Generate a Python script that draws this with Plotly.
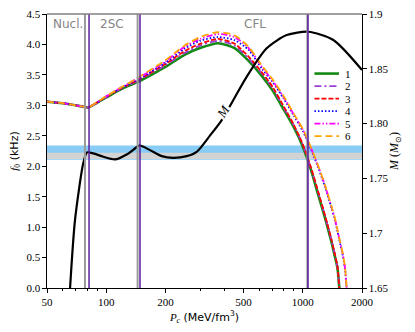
import math
import plotly.graph_objects as go

# central pressure grid (MeV/fm^3) shared by the f0 curves
p_grid = [50, 60, 70, 77, 81, 100, 120, 148, 200, 250, 300, 370, 450, 530, 620,
          700, 800, 900, 1000, 1100, 1200, 1300, 1400, 1450, 1500, 1533, 1600, 1640, 1670]

# f0 (kHz) for the six models
f1 = [3.06, 3.035, 3.0, 2.975, 2.965, 3.13, 3.27, 3.40, 3.63, 3.83, 3.94, 4.02, 3.94, 3.73, 3.48,
      3.25, 2.93, 2.64, 2.32, 1.94, 1.52, 1.14, 0.75, 0.54, 0.33, 0.0, None, None, None]
f2 = [3.06, 3.035, 3.0, 2.975, 2.965, 3.135, 3.28, 3.42, 3.66, 3.86, 3.98, 4.06, 3.98, 3.77, 3.52,
      3.29, 2.96, 2.67, 2.35, 1.97, 1.56, 1.17, 0.78, 0.57, 0.35, 0.0, None, None, None]
f3 = [3.06, 3.035, 3.0, 2.975, 2.965, 3.14, 3.285, 3.43, 3.68, 3.89, 4.01, 4.09, 4.01, 3.80, 3.54,
      3.31, 2.98, 2.68, 2.36, 1.98, 1.57, 1.18, 0.79, 0.58, 0.36, 0.0, None, None, None]
f4 = [3.06, 3.035, 3.0, 2.975, 2.965, 3.14, 3.29, 3.44, 3.70, 3.93, 4.06, 4.12, 4.07, 3.91, 3.60,
      3.39, 3.11, 2.83, 2.58, 2.28, 1.97, 1.65, 1.31, 1.14, 0.93, 0.79, 0.52, 0.30, 0.0]
f5 = [3.06, 3.035, 3.0, 2.975, 2.965, 3.15, 3.30, 3.46, 3.72, 3.96, 4.09, 4.17, 4.12, 3.94, 3.63,
      3.41, 3.13, 2.85, 2.60, 2.30, 1.99, 1.67, 1.33, 1.16, 0.95, 0.81, 0.54, 0.32, 0.0]
f6 = [3.06, 3.035, 3.0, 2.975, 2.965, 3.15, 3.30, 3.47, 3.74, 3.98, 4.12, 4.20, 4.15, 3.96, 3.65,
      3.43, 3.15, 2.86, 2.61, 2.31, 2.00, 1.68, 1.34, 1.17, 0.96, 0.82, 0.55, 0.33, 0.0]

# stellar mass M (Msun) against central pressure
m_p = [65.5, 69.4, 76.5, 79.9, 86, 96.7, 110.9, 127, 140.1, 147.4, 167, 191.6, 219.5,
       256.7, 288.6, 337, 387, 450, 518, 655, 828, 1066, 1430, 2000]
m_val = [1.650, 1.712, 1.764, 1.7737, 1.7728, 1.7697, 1.7673, 1.7718, 1.7773, 1.7801, 1.7758,
         1.7703, 1.7687, 1.7703, 1.7742, 1.789, 1.8032, 1.8236, 1.8427, 1.8687, 1.8808,
         1.8838, 1.8763, 1.8489]

# phase boundaries
gray_lines = [78, 144.5, 1055]
purple_lines = [81.8, 148.6, 1062]
phase_names = ['Nucl.', '2SC', 'CFL']
phase_pos = [64, 107, 568]

# observational f0 bands (kHz)
blue_band = [2.105, 2.34]
gray_band = [2.12, 2.22]

labels = ['1', '2', '3', '4', '5', '6']
colors = ['#138a13', '#9b3fd6', '#ff0000', '#0000ff', '#ff00ff', '#ffa500']
dashes = ['solid', '7px,3px,2px,3px', '5px,2px', '1.5px,2px',
          '6px,2px,1.5px,2px,1.5px,2px', '7px,4px']
widths = [2.6, 1.8, 1.8, 1.8, 1.8, 1.8]
f_all = [f1, f2, f3, f4, f5, f6]

serif = 'Liberation Serif, serif'
sans = 'DejaVu Sans, sans-serif'

fig = go.Figure()

for f, c, d, w in zip(f_all, colors, dashes, widths):
    fig.add_trace(go.Scatter(x=p_grid, y=f, mode='lines', showlegend=False,
                             line=dict(color=c, dash=d, width=w, shape='spline', smoothing=0.7)))

fig.add_trace(go.Scatter(x=m_p, y=m_val, yaxis='y2', mode='lines', showlegend=False,
                         line=dict(color='black', width=2.2, shape='spline', smoothing=0.7)))

shapes = []
shapes.append(dict(type='rect', xref='paper', yref='y', x0=0, x1=1, y0=blue_band[0], y1=blue_band[1],
                   fillcolor='#89cdf6', line=dict(width=0), layer='below'))
shapes.append(dict(type='rect', xref='paper', yref='y', x0=0, x1=1, y0=gray_band[0], y1=gray_band[1],
                   fillcolor='#d3d3d3', line=dict(width=0), layer='below'))
for g in gray_lines:
    shapes.append(dict(type='line', xref='x', yref='paper', x0=g, x1=g, y0=0, y1=1,
                       line=dict(color='#9a9a9a', width=2)))
for p in purple_lines:
    shapes.append(dict(type='line', xref='x', yref='paper', x0=p, x1=p, y0=0, y1=1,
                       line=dict(color='#5a1f9e', width=1.5)))
# grey top spine
shapes.append(dict(type='line', xref='paper', yref='paper', x0=0, x1=1, y0=1, y1=1,
                   line=dict(color='#808080', width=1.5)))

annotations = []
for name, pos in zip(phase_names, phase_pos):
    annotations.append(dict(x=math.log10(pos), y=4.34, xref='x', yref='y', text=name, showarrow=False,
                            xanchor='center', yanchor='middle',
                            font=dict(family=sans, size=12, color='#858585')))

# inline curve label for M
annotations.append(dict(x=math.log10(394), y=1.8108, xref='x', yref='y2', text='<i>M</i>',
                        showarrow=False, textangle=-57, bgcolor='white', borderpad=0,
                        xanchor='center', yanchor='middle',
                        font=dict(family=serif, size=13, color='black')))

# hand-made compact legend
for i, (lab, c, d, w) in enumerate(zip(labels, colors, dashes, widths)):
    py = 73.5 + 12.5 * i
    yp = (287.7 - py) / 273.7
    shapes.append(dict(type='line', xref='paper', yref='paper', x0=0.849, x1=0.927, y0=yp, y1=yp,
                       line=dict(color=c, dash=d, width=w)))
    annotations.append(dict(x=0.957, y=yp, xref='paper', yref='paper', text=lab, showarrow=False,
                            xanchor='center', yanchor='middle',
                            font=dict(family=serif, size=11, color='black')))

# page body has an 8px margin, so the figure is shrunk and the margins trimmed by 8px
fig.update_layout(
    width=407, height=324,
    margin=dict(l=39, r=53, t=6, b=44, autoexpand=False),
    paper_bgcolor='white', plot_bgcolor='white',
    font=dict(family=serif, size=11, color='black'),
    shapes=shapes, annotations=annotations,
    xaxis=dict(type='log', range=[math.log10(50), math.log10(2000)], automargin=False,
               tickvals=[50, 100, 200, 500, 1000, 2000],
               ticktext=['50', '100', '200', '500', '1000', '2000'],
               ticks='outside', ticklen=3.5, tickcolor='black', ticklabeloverflow='allow',
               minor=dict(tickvals=[60, 70, 80, 90, 300, 400, 600, 700, 800, 900],
                          ticks='outside', ticklen=2, tickcolor='black'),
               showline=True, linecolor='black', linewidth=1.2, showgrid=False, zeroline=False,
               title=dict(text='<span style="font-family:Liberation Serif"><i>P</i><sub><i>c</i></sub></span> (MeV/fm<sup>3</sup>)',
                          font=dict(family=sans, size=11), standoff=6)),
    yaxis=dict(range=[0, 4.5], dtick=0.5, tickformat='.1f', automargin=False,
               ticks='outside', ticklen=3.5, tickcolor='black', ticklabeloverflow='allow',
               showline=True, linecolor='black', linewidth=1.2, showgrid=False, zeroline=False,
               title=dict(text='<span style="font-family:Liberation Serif"><i>f</i><sub>0</sub></span> (kHz)',
                          font=dict(family=sans, size=11), standoff=6)),
    yaxis2=dict(overlaying='y', side='right', range=[1.65, 1.9], automargin=False,
                tickvals=[1.65, 1.7, 1.75, 1.8, 1.85, 1.9],
                ticktext=['1.65', '1.7', '1.75', '1.80', '1.85', '1.9'],
                ticks='outside', ticklen=3.5, tickcolor='black', ticklabeloverflow='allow',
                showline=True, linecolor='black', linewidth=1.2, showgrid=False, zeroline=False,
                title=dict(text='<i>M</i> (<i>M</i><sub>⊙</sub>)',
                           font=dict(family=serif, size=12), standoff=2)),
)

fig.write_html("out.html")
